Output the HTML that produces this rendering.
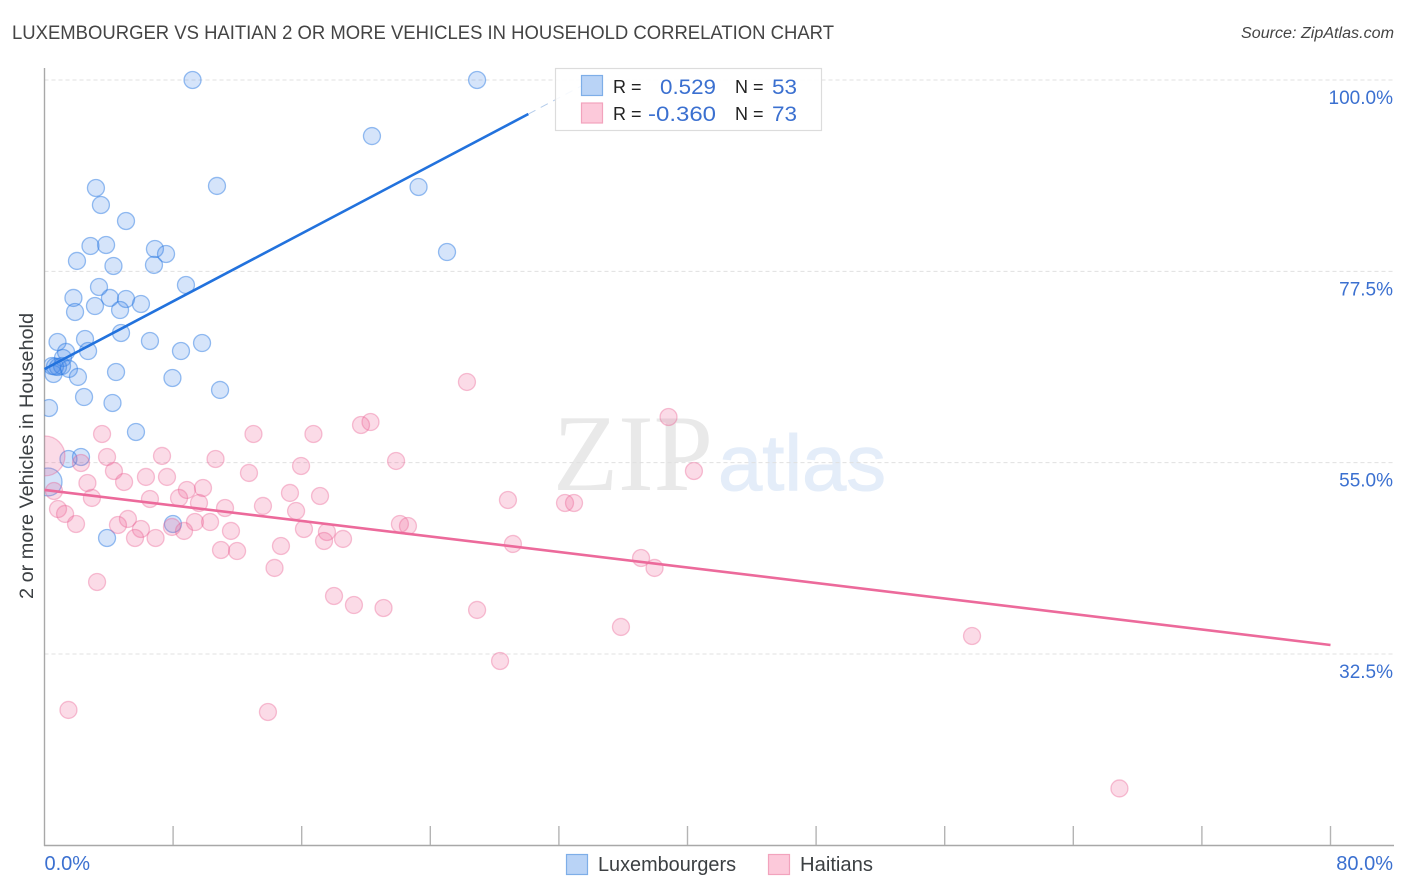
<!DOCTYPE html>
<html lang="en">
<head>
<meta charset="utf-8">
<title>Luxembourger vs Haitian 2 or more Vehicles in Household Correlation Chart</title>
<style>
html,body{margin:0;padding:0;background:#fff;width:1406px;height:892px;overflow:hidden}
svg{display:block;font-family:"Liberation Sans",sans-serif}
</style>
</head>
<body>
<svg id="chart" xmlns="http://www.w3.org/2000/svg" width="1406" height="892" viewBox="0 0 1406 892">
  <defs>
    <clipPath id="plot-clip"><rect x="44.5" y="60" width="1350" height="785"/></clipPath>
  </defs>
  <text x="12" y="39" font-size="19" fill="#444" textLength="822" lengthAdjust="spacingAndGlyphs">LUXEMBOURGER VS HAITIAN 2 OR MORE VEHICLES IN HOUSEHOLD CORRELATION CHART</text>
  <text x="1241" y="38" font-size="15.5" font-style="italic" fill="#444" textLength="153" lengthAdjust="spacingAndGlyphs">Source: ZipAtlas.com</text>

  <g>
    <text x="553" y="490" font-family="'Liberation Serif',serif" font-size="109" fill="#e9e9e9" textLength="160" lengthAdjust="spacingAndGlyphs">ZIP</text>
    <text x="718" y="490" font-family="'Liberation Sans',sans-serif" font-size="79" fill="#e4edf9" stroke="#e4edf9" stroke-width="1" textLength="168" lengthAdjust="spacingAndGlyphs">atlas</text>
  </g>

  <g id="grid"></g>
  <g id="axes"></g>
  <g id="marks-blue" clip-path="url(#plot-clip)"></g>
  <g id="marks-pink" clip-path="url(#plot-clip)"></g>
  <g id="trends"></g>
  <g id="ylabels"></g>
  <g id="xlabels"></g>

  <text transform="translate(33,456) rotate(-90)" font-size="19" fill="#3c4043" text-anchor="middle" textLength="286" lengthAdjust="spacingAndGlyphs">2 or more Vehicles in Household</text>

  <g>
    <rect x="555.5" y="68.5" width="266" height="62" fill="#fff" fill-opacity="0.88" stroke="#dcdcdc" stroke-width="1.2"/>
    <rect x="581.5" y="75.5" width="21" height="20" fill="#b9d3f6" stroke="#7eaee8" stroke-width="1.2"/>
    <rect x="581.5" y="103" width="21" height="20" fill="#fcc9da" stroke="#f2a3bd" stroke-width="1.2"/>
    <text x="613" y="93" font-size="18" fill="#222">R =</text>
    <text x="660" y="94" font-size="21" fill="#3b70d0" textLength="56" lengthAdjust="spacingAndGlyphs">0.529</text>
    <text x="735" y="93" font-size="18" fill="#222">N =</text>
    <text x="772" y="94" font-size="21" fill="#3b70d0" textLength="25" lengthAdjust="spacingAndGlyphs">53</text>
    <text x="613" y="120" font-size="18" fill="#222">R =</text>
    <text x="648" y="121" font-size="21" fill="#3b70d0" textLength="68" lengthAdjust="spacingAndGlyphs">-0.360</text>
    <text x="735" y="120" font-size="18" fill="#222">N =</text>
    <text x="772" y="121" font-size="21" fill="#3b70d0" textLength="25" lengthAdjust="spacingAndGlyphs">73</text>
  </g>

  <g>
    <rect x="566.5" y="854.5" width="21" height="20" fill="#b9d3f6" stroke="#7eaee8" stroke-width="1.2"/>
    <text x="598" y="871" font-size="20" fill="#3c4043" textLength="138" lengthAdjust="spacingAndGlyphs">Luxembourgers</text>
    <rect x="768.5" y="854.5" width="21" height="20" fill="#fcc9da" stroke="#f2a3bd" stroke-width="1.2"/>
    <text x="800" y="871" font-size="20" fill="#3c4043" textLength="73" lengthAdjust="spacingAndGlyphs">Haitians</text>
  </g>
</svg>
<script>
const blueX = [9.21,26.91,20.37,10.73,23.27,3.20,3.51,5.07,2.86,3.83,6.87,7.56,25.04,2.02,4.29,6.81,8.80,3.39,1.80,4.07,5.07,6.00,3.14,4.70,1.90,4.76,2.52,0.81,6.56,9.80,8.49,2.71,1.34,1.15,0.47,0.84,1.09,1.52,0.56,4.45,2.08,7.96,10.92,2.46,4.23,0.28,5.69,2.27,1.49,0.22,7.99,3.89,0.65];
const blueY = [100,100,93.41,87.54,87.42,87.30,85.30,83.42,80.48,80.60,80.13,79.54,79.77,78.72,78.13,78.25,75.89,75.66,74.37,74.37,74.25,73.66,73.42,72.95,72.72,70.25,69.54,69.19,69.31,69.07,68.13,68.13,68.02,67.31,66.37,66.25,66.37,66.02,65.43,65.66,65.08,64.96,63.55,62.72,62.02,61.43,58.61,55.67,55.43,52.73,47.79,46.14,66.30];
const blueWeight = [1,1,1,1,1,1,1,1,1,1,1,1,1,1,1,1,1,1,1,1,1,1,1,1,1,1,1,1,1,1,1,1,1,1,1,1,1,1,1,1,1,1,1,1,1,1,1,1,1,2.7,1,1,1];
const pinkX = [26.28,38.82,20.28,19.69,3.58,13.00,16.73,0.03,3.89,7.31,10.64,21.87,2.27,15.96,4.32,40.40,12.72,6.31,7.62,4.95,2.67,9.86,8.86,0.59,15.27,17.14,8.37,2.95,6.56,28.83,9.61,32.38,32.94,13.59,11.23,0.84,15.65,1.28,5.19,9.36,10.30,1.96,4.57,22.11,22.61,7.93,6.00,16.14,8.68,11.60,17.57,5.63,6.91,17.39,18.57,29.14,14.71,10.98,11.98,37.11,37.95,14.31,3.27,18.01,19.25,21.09,26.91,35.86,57.70,28.34,1.49,13.90,66.87];
const pinkY = [64.49,60.37,59.78,59.43,58.37,58.37,58.37,55.79,55.67,55.79,55.43,55.20,54.96,54.61,54.02,54.02,53.79,53.32,53.32,52.73,52.61,52.02,51.79,51.67,51.44,51.08,50.85,50.85,50.73,50.61,50.26,50.26,50.26,49.91,49.67,49.55,49.32,48.97,48.38,48.02,48.02,47.79,47.67,47.79,47.55,47.44,47.20,47.20,46.97,46.97,46.85,46.14,46.14,45.79,46.03,45.44,45.20,44.73,44.61,43.79,42.62,42.62,40.97,39.32,38.26,37.91,37.68,35.68,34.62,31.68,25.92,25.68,16.69];
const pinkWeight = [1,1,1,1,1,1,1,5.5,1,1,1,1,1,1,1,1,1,1,1,1,1,1,1,1,1,1,1,1,1,1,1,1,1,1,1,1,1,1,1,1,1,1,1,1,1,1,1,1,1,1,1,1,1,1,1,1,1,1,1,1,1,1,1,1,1,1,1,1,1,1,1,1,1];
const blueTrendX = [0, 30.1];
const blueTrendY = [66.0, 96.0];
const blueTrendExtensionX = [30.1, 34.1];
const blueTrendExtensionY = [96.0, 100];
const pinkTrendX = [0, 80];
const pinkTrendY = [51.79, 33.56];
const yTickValues = [100, 77.5, 55, 32.5];
const yTickLabels = ["100.0%", "77.5%", "55.0%", "32.5%"];
const xTickValues = [0, 8, 16, 24, 32, 40, 48, 56, 64, 72, 80];
const xEndValues = [0, 80];
const xEndLabels = ["0.0%", "80.0%"];

const SVGNS = "http://www.w3.org/2000/svg";
function xScale(v) { return 44.5 + v * (1286 / 80); }
function yScale(v) { return 80 + (100 - v) * (574 / 67.5); }
function rScale(w) { return 8.5 * Math.sqrt(w); }
function make(tag, parentId, props) {
  const el = document.createElementNS(SVGNS, tag);
  for (const k in props) el.setAttribute(k, props[k]);
  document.getElementById(parentId).appendChild(el);
  return el;
}

yTickValues.forEach(function (v, i) {
  const g = make("line", "grid", { x1: 44.5, x2: 1394, y1: yScale(v), y2: yScale(v), stroke: "#e0e0e0", "stroke-width": 1, "stroke-dasharray": "4 3" });
  
  
  const t = make("text", "ylabels", { x: 1393, y: yScale(v) + 24, "font-size": 19, fill: "#3b70d0", "text-anchor": "end" });
  t.textContent = yTickLabels[i];
  
  
});

const yAxis = make("line", "axes", { x1: 44.5, x2: 44.5, y1: 68, y2: 846, stroke: "#a8a8a8", "stroke-width": 1.4 });


const xAxis = make("line", "axes", { x1: 44, x2: 1394, y1: 845.5, y2: 845.5, stroke: "#a8a8a8", "stroke-width": 1.4 });


xTickValues.slice(1).forEach(function (v) {
  const tk = make("line", "axes", { x1: xScale(v), x2: xScale(v), y1: 826, y2: 845, stroke: "#b4b4b4", "stroke-width": 1.4 });
  
  
});
xEndValues.forEach(function (v, i) {
  const t = make("text", "xlabels", { x: i === 0 ? xScale(v) : 1393, y: 870, "font-size": 20, fill: "#3b70d0", "text-anchor": i === 0 ? "start" : "end" });
  t.textContent = xEndLabels[i];
  
  
});

blueX.forEach(function (v, i) {
  const c = make("circle", "marks-blue", { cx: xScale(v), cy: yScale(blueY[i]), r: rScale(blueWeight[i]), fill: "rgba(66,133,230,0.22)", stroke: "rgba(42,122,226,0.48)", "stroke-width": 1.3 });
  
  
});
pinkX.forEach(function (v, i) {
  const c = make("circle", "marks-pink", { cx: xScale(v), cy: yScale(pinkY[i]), r: rScale(pinkWeight[i]), fill: "rgba(236,100,150,0.23)", stroke: "rgba(233,90,140,0.36)", "stroke-width": 1.3 });
  
  
});

const blueTrend = make("line", "trends", { x1: xScale(blueTrendX[0]), y1: yScale(blueTrendY[0]), x2: xScale(blueTrendX[1]), y2: yScale(blueTrendY[1]), stroke: "#2272dd", "stroke-width": 2.6 });


const blueExt = make("line", "trends", { x1: xScale(blueTrendExtensionX[0]), y1: yScale(blueTrendExtensionY[0]), x2: xScale(blueTrendExtensionX[1]), y2: yScale(blueTrendExtensionY[1]), stroke: "#b4cceb", "stroke-width": 1, "stroke-dasharray": "8 6" });


const pinkTrend = make("line", "trends", { x1: xScale(pinkTrendX[0]), y1: yScale(pinkTrendY[0]), x2: xScale(pinkTrendX[1]), y2: yScale(pinkTrendY[1]), stroke: "#ec6a9b", "stroke-width": 2.6 });


</script>
</body>
</html>
